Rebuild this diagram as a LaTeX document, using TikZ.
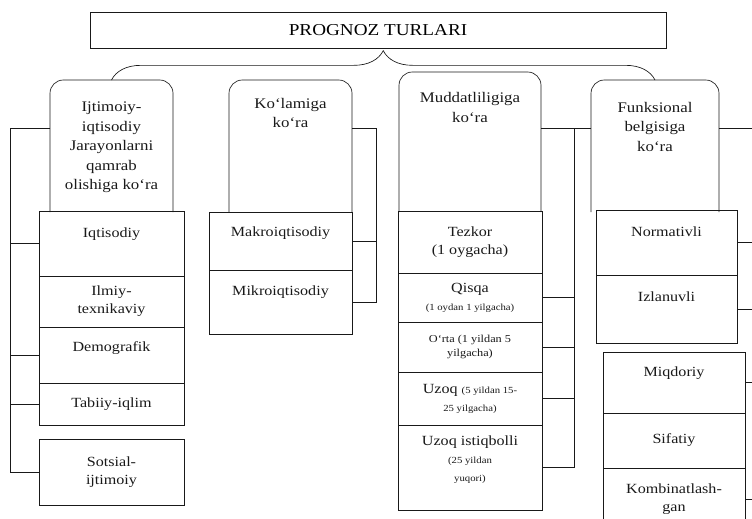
\documentclass[tikz,border=0pt]{standalone}
\usepackage{fontspec}
\setmainfont{Liberation Serif}[FakeStretch=1.15]
\usepackage{tikz}
\usetikzlibrary{positioning,decorations.pathreplacing}
\definecolor{ink}{RGB}{25,25,25}
\newcommand{\smalltxt}{\fontsize{7}{8.5}\selectfont}
\tikzset{
  head/.style={draw=ink,minimum width=432pt,minimum height=27pt,
    font=\fontsize{12.5}{14}\selectfont},
  catframe/.style={minimum height=99pt,inner sep=0pt,outer sep=0pt},
  cattext/.style={align=center,anchor=north,text=ink,
    font=\fontsize{11}{14.6}\selectfont},
  cell/.style={draw=ink,outer sep=0pt,inner sep=2pt,align=center,text=ink,
    font=\fontsize{10.5}{13.5}\selectfont},
  wire/.style={draw=ink,line width=0.5pt},
  arch/.style={wire,rounded corners=10pt},
}
\begin{document}
\begin{tikzpicture}[x=0.75pt,y=-0.75pt]
  \useasboundingbox (0,0) rectangle (752,518);
  \node[head] (title) at (378,30) {PROGNOZ TURLARI};

  % category frames
  \node[catframe,minimum width=92.25pt] (c1) at (111.5,146) {};
  \node[catframe,minimum width=92.25pt] (c2) at (290.5,146) {};
  \node[catframe,minimum width=106.5pt,minimum height=105pt] (c3) at (470,142) {};
  \node[catframe,minimum width=96pt] (c4) at (655,146) {};
  \foreach \c in {c1,c2,c3,c4}
    \draw[arch] (\c.south west) |- (\c.north) -| (\c.south east);
  \node[cattext] (t1) at ([yshift=-13pt]c1.north)
    {Ijtimoiy-\\iqtisodiy\\Jarayonlarni\\qamrab\\olishiga ko‘ra};
  \node[cattext] (t2) at ([yshift=-10pt]c2.north) {Ko‘lamiga\\ko‘ra};
  \node[cattext] (t3) at ([yshift=-12pt]c3.north) {Muddatliligiga\\ko‘ra};
  \node[cattext] (t4) at ([yshift=-13pt]c4.north) {Funksional\\belgisiga\\ko‘ra};
  \draw[wire,decorate,decoration={brace,amplitude=22pt}] (c1.north) -- (c4.north);

  % column 1
  \node[cell,minimum width=108.75pt,minimum height=48.75pt,text depth=17pt,anchor=north]
    (s11) at (111.5,211) {Iqtisodiy};
  \node[cell,minimum width=108.75pt,minimum height=38.25pt,below=0pt of s11]
    (s12) {Ilmiy-\\texnikaviy};
  \node[cell,minimum width=108.75pt,minimum height=42pt,text depth=12.5pt,below=0pt of s12]
    (s13) {Demografik};
  \node[cell,minimum width=108.75pt,minimum height=31.5pt,below=0pt of s13]
    (s14) {Tabiiy-iqlim};
  \node[cell,minimum width=108.75pt,minimum height=49.5pt,below=10.5pt of s14]
    (s15) {Sotsial-\\ijtimoiy};

  % column 2
  \node[cell,minimum width=107.25pt,minimum height=43.5pt,text depth=14.5pt,anchor=north]
    (s21) at (280.5,212) {Makroiqtisodiy};
  \node[cell,minimum width=107.25pt,minimum height=48pt,text depth=17pt,below=0pt of s21]
    (s22) {Mikroiqtisodiy};

  % column 3
  \node[cell,minimum width=108pt,minimum height=46.5pt,anchor=north]
    (s31) at (470,211) {Tezkor\\(1 oygacha)};
  \node[cell,minimum width=108pt,minimum height=36.75pt,below=0pt of s31]
    (s32) {Qisqa\\{\smalltxt (1 oydan 1 yilgacha)}};
  \node[cell,minimum width=108pt,minimum height=37.5pt,below=0pt of s32,
    font=\fontsize{8}{11}\selectfont]
    (s33) {O‘rta (1 yildan 5\\yilgacha)};
  \node[cell,minimum width=108pt,minimum height=39.75pt,below=0pt of s33]
    (s34) {Uzoq {\smalltxt (5 yildan 15-}\\{\smalltxt 25 yilgacha)}};
  \node[cell,minimum width=108pt,minimum height=63.75pt,text depth=14pt,below=0pt of s34]
    (s35) {Uzoq istiqbolli\\{\smalltxt (25 yildan}\\{\smalltxt yuqori)}};

  % column 4
  \node[cell,minimum width=105.75pt,minimum height=48.75pt,text depth=17pt,anchor=north]
    (s41) at (666.5,210) {Normativli};
  \node[cell,minimum width=105.75pt,minimum height=51pt,text depth=19pt,below=0pt of s41]
    (s42) {Izlanuvli};
  \node[cell,minimum width=106.5pt,minimum height=45.75pt,text depth=16pt,anchor=north]
    (s43) at (674,352) {Miqdoriy};
  \node[cell,minimum width=106.5pt,minimum height=41.25pt,below=0pt of s43]
    (s44) {Sifatiy};
  \node[cell,minimum width=106.5pt,minimum height=46.5pt,below=0pt of s44]
    (s45) {Kombinatlash-\\gan};

  % connectors
  \coordinate (k1) at (10,128);
  \coordinate (k2) at (376,128);
  \coordinate (k3) at (574,128);
  \coordinate (k4) at (752,128);
  \draw[wire] (c1.west |- k1) -- (k1) -- (k1 |- s15.west) -- (s15.west);
  \foreach \s in {s11,s13,s14}
    \draw[wire] (k1 |- \s.west) -- (\s.west);
  \draw[wire] (c2.east |- k2) -- (k2) -- (k2 |- s22.east) -- (s22.east);
  \draw[wire] (s21.east) -- (s21.east -| k2);
  \draw[wire] (c3.east |- k3) -- (c4.west |- k3);
  \draw[wire] (k3) -- (k3 |- s35.east) -- (s35.east);
  \foreach \s in {s32,s33,s34}
    \draw[wire] (\s.east) -- (\s.east -| k3);
  \draw[wire] (c4.east |- k4) -- (k4);
  \foreach \s in {s41,s42,s43,s45}
    \draw[wire] (\s.east) -- (\s.east -| k4);
\end{tikzpicture}
\end{document}
